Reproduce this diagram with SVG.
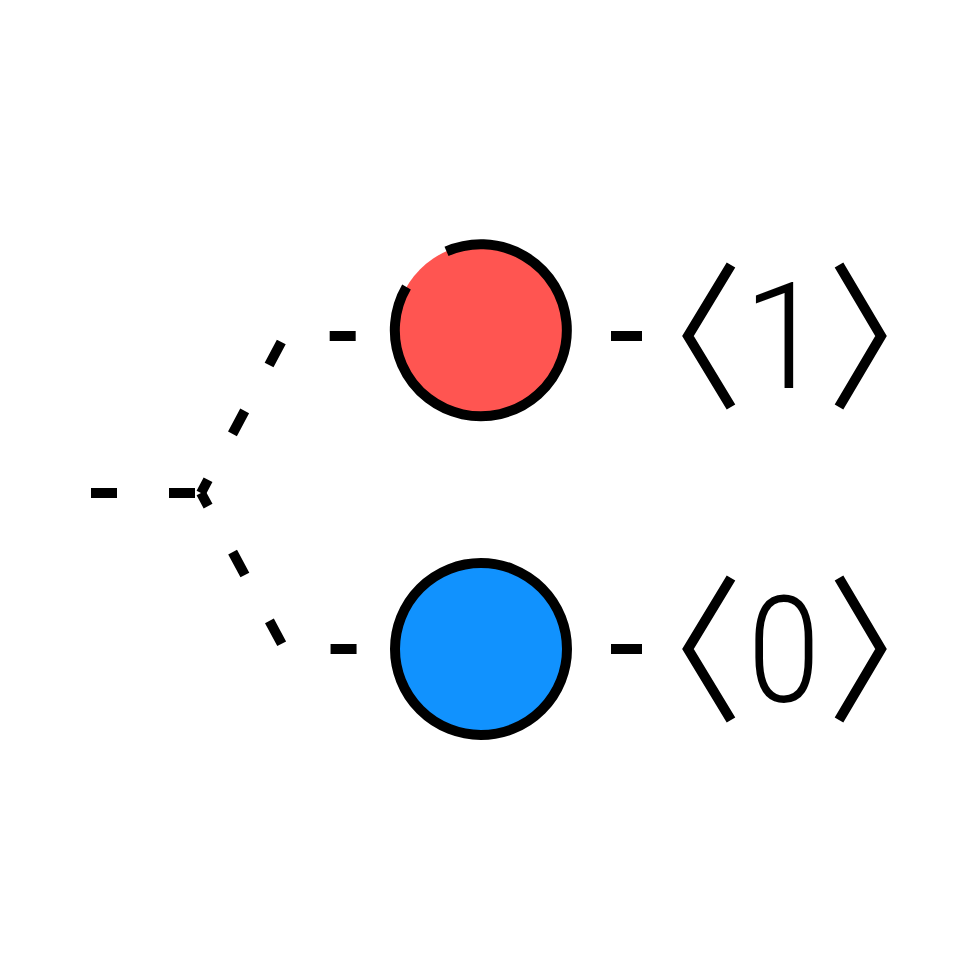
<svg xmlns="http://www.w3.org/2000/svg" width="980" height="980" viewBox="0 0 980 980">
<style>
.dash{fill:none;stroke:#000;stroke-width:10;stroke-dasharray:26 52;stroke-linecap:butt;stroke-linejoin:miter}
.ln{fill:none;stroke:#000;stroke-width:10;stroke-linecap:butt;stroke-linejoin:miter;stroke-miterlimit:10}
.digit{font-family:Roboto,"Liberation Sans",sans-serif;font-weight:300;font-size:148px;fill:#000;text-anchor:middle}
</style>
<rect width="980" height="980" fill="#fff"/>
<g id="connectors">
<path class="dash" d="M91 493 H197"/>
<path class="dash" stroke-dashoffset="11" d="M201 493 L284.5 336 H392"/>
<path class="dash" stroke-dashoffset="11" d="M201 493 L284.5 649 H392"/>
<path class="ln" d="M611 336 H642"/>
<path class="ln" d="M611 649 H642"/>
</g>
<g id="state-1">
<circle cx="481" cy="330" r="86" fill="#FF5551"/>
<path class="ln" d="M446.5 251.4 A86 86 0 1 1 406.5 287"/>
</g>
<g id="state-0">
<circle cx="481" cy="649" r="86" fill="#1192FE" stroke="#000" stroke-width="10"/>
</g>
<g id="ket-1">
<polyline class="ln" points="731,265 688,336 731,407"/>
<polyline class="ln" points="839,265 881,336 839,407"/>
<text class="digit" x="784" y="388">1</text>
</g>
<g id="ket-0">
<polyline class="ln" points="731,578 688,649 731,720"/>
<polyline class="ln" points="839,578 881,649 839,720"/>
<text class="digit" x="784" y="702" transform="translate(784 0) scale(0.88 1) translate(-784 0)">0</text>
</g>
</svg>
